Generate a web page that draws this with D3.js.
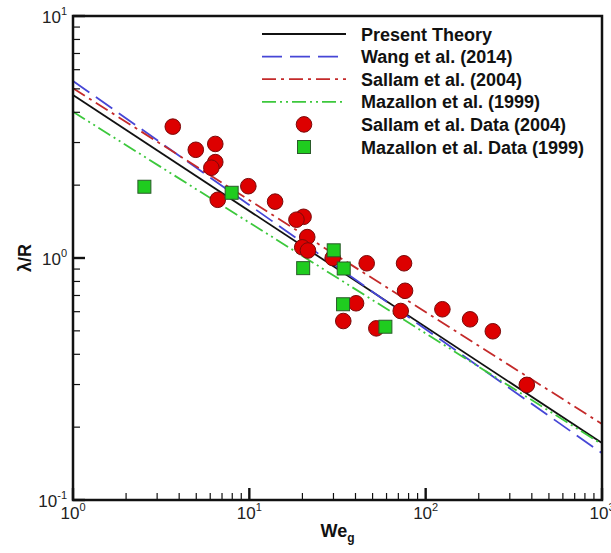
<!DOCTYPE html>
<html>
<head>
<meta charset="utf-8">
<script src="https://cdn.jsdelivr.net/npm/d3@7"></script>
<style>
  body { margin: 0; background: #fff; }
  svg { display: block; font-family: "Liberation Sans", Arial, sans-serif; }
</style>
</head>
<body>
<svg id="chart" width="611" height="553"></svg>
<script>
// fitted curves, read at the ends of the axis
const theoryPts   = [[1, 4.72], [1000, 0.172]];
const wangPts     = [[1, 5.39], [1000, 0.156]];
const sallamPts   = [[1, 5.03], [1000, 0.206]];
const mazallonPts = [[1, 4.02], [1000, 0.170]];

// measured data (We_g, lambda/R)
const sallamWe = [3.68, 4.97, 6.41, 6.41, 6.09, 9.87, 6.62, 14.0, 20.3, 18.5, 21.3, 19.95, 21.5,
                  29.7, 46.3, 75.4, 76.4, 72.2, 40.3, 34.1, 52.5, 124.4, 178.6, 240.3, 374.6];
const sallamLR = [3.49, 2.80, 2.96, 2.49, 2.36, 1.98, 1.74, 1.71, 1.48, 1.44, 1.22, 1.107, 1.074,
                  1.00, 0.951, 0.951, 0.732, 0.604, 0.650, 0.549, 0.512, 0.614, 0.558, 0.498, 0.299];
const mazallonWe = [2.54, 7.94, 30.1, 20.2, 34.3, 34.0, 59.1];
const mazallonLR = [1.97, 1.86, 1.076, 0.908, 0.905, 0.644, 0.520];

const xMajor = [1, 10, 100, 1000];
const yMajor = [0.1, 1, 10];

const margin = {top: 16, right: 9, bottom: 53, left: 73},
    width = 611 - margin.left - margin.right,
    height = 553 - margin.top - margin.bottom;

const svg = d3.select('#chart');
const g = svg.append('g').attr('transform', 'translate(' + margin.left + ',' + margin.top + ')');

const x = d3.scaleLog().domain([1, 1000]).range([0, width]);
const y = d3.scaleLog().domain([0.1, 10]).range([height, 0]);

// minor ticks 2..9 in every decade
function minors(lo, hi) {
  let out = [];
  for (let d = lo; d < hi; d *= 10)
    for (let k = 2; k < 10; k++) out.push(d * k);
  return out;
}

const line = d3.line().x(function(d) { return x(d[0]); }).y(function(d) { return y(d[1]); });

const curves = [
  {name: 'Present Theory', pts: theoryPts, color: '#111', dash: null},
  {name: 'Wang et al. (2014)', pts: wangPts, color: '#4646d6', dash: '20,8'},
  {name: 'Sallam et al. (2004)', pts: sallamPts, color: '#c42a2a', dash: '14,5,3,5'},
  {name: 'Mazallon et al. (1999)', pts: mazallonPts, color: '#3cc83c', dash: '14,4,2,4,2,4'}
];

curves.forEach(function(c) {
  g.append('path')
      .datum(c.pts)
      .attr('d', line)
      .attr('fill', 'none')
      .attr('stroke', c.color)
      .attr('stroke-width', 1.8)
      .attr('stroke-dasharray', c.dash);
});

// markers
const sallamData = sallamWe.map(function(v, i) { return [v, sallamLR[i]]; });
const mazallonData = mazallonWe.map(function(v, i) { return [v, mazallonLR[i]]; });

g.selectAll('circle.sallam')
    .data(sallamData)
    .enter().append('circle')
    .attr('class', 'sallam')
    .attr('cx', function(d) { return x(d[0]); })
    .attr('cy', function(d) { return y(d[1]); })
    .attr('r', 7.8)
    .attr('fill', '#dd0000')
    .attr('stroke', '#7a0a0a')
    .attr('stroke-width', 1);

const sq = 13;
g.selectAll('rect.mazallon')
    .data(mazallonData)
    .enter().append('rect')
    .attr('class', 'mazallon')
    .attr('x', function(d) { return x(d[0]) - sq / 2; })
    .attr('y', function(d) { return y(d[1]) - sq / 2; })
    .attr('width', sq)
    .attr('height', sq)
    .attr('fill', '#1fcc1f')
    .attr('stroke', '#2a5a2a')
    .attr('stroke-width', 1);

// ticks (inward, left and bottom only)
g.selectAll('line.xmin').data(minors(1, 1000)).enter().append('line')
    .attr('x1', x).attr('x2', x).attr('y1', height).attr('y2', height - 7)
    .attr('stroke', '#111').attr('stroke-width', 1.2);
g.selectAll('line.xmaj').data(xMajor).enter().append('line')
    .attr('x1', x).attr('x2', x).attr('y1', height).attr('y2', height - 12)
    .attr('stroke', '#111').attr('stroke-width', 2.4);
g.selectAll('line.ymin').data(minors(0.1, 10)).enter().append('line')
    .attr('y1', y).attr('y2', y).attr('x1', 0).attr('x2', 7)
    .attr('stroke', '#111').attr('stroke-width', 1.2);
g.selectAll('line.ymaj').data(yMajor).enter().append('line')
    .attr('y1', y).attr('y2', y).attr('x1', 0).attr('x2', 12)
    .attr('stroke', '#111').attr('stroke-width', 2.4);

// frame
g.append('rect')
    .attr('width', width).attr('height', height)
    .attr('fill', 'none').attr('stroke', '#111').attr('stroke-width', 2.5);

// tick labels
function power(sel, exp) {
  sel.append('tspan').text('10');
  sel.append('tspan').attr('dy', -8).attr('font-size', 11).text(exp);
}
xMajor.forEach(function(v) {
  const t = g.append('text')
      .attr('x', x(v)).attr('y', height + 19)
      .attr('text-anchor', 'middle')
      .attr('font-size', 17).attr('fill', '#222');
  power(t, Math.round(Math.log10(v)));
});
yMajor.forEach(function(v) {
  const t = g.append('text')
      .attr('x', -6).attr('y', y(v) + 7)
      .attr('text-anchor', 'end')
      .attr('font-size', 17).attr('fill', '#222');
  power(t, Math.round(Math.log10(v)));
});

// axis titles
const xt = svg.append('text')
    .attr('x', margin.left + width / 2).attr('y', 537)
    .attr('text-anchor', 'middle')
    .attr('font-size', 18).attr('font-weight', 'bold').attr('fill', '#111');
xt.append('tspan').text('We');
xt.append('tspan').attr('dy', 5).attr('font-size', 12).text('g');

svg.append('text')
    .attr('transform', 'translate(31,258) rotate(-90)')
    .attr('text-anchor', 'middle')
    .attr('font-size', 18).attr('font-weight', 'bold').attr('fill', '#111')
    .text('λ/R');

// legend
const legend = svg.append('g').attr('transform', 'translate(262,34)');
const rowH = 22.6;
const entries = curves.map(function(c) { return {name: c.name, type: 'line', c: c}; })
    .concat([{name: 'Sallam et al. Data (2004)', type: 'circle'},
             {name: 'Mazallon et al. Data (1999)', type: 'square'}]);

entries.forEach(function(e, i) {
  const row = legend.append('g').attr('transform', 'translate(0,' + i * rowH + ')');
  if (e.type === 'line') {
    row.append('line')
        .attr('x1', 0).attr('x2', 84).attr('y1', 0).attr('y2', 0)
        .attr('stroke', e.c.color).attr('stroke-width', 1.8)
        .attr('stroke-dasharray', e.c.dash);
  } else if (e.type === 'circle') {
    row.append('circle').attr('cx', 42).attr('cy', 0).attr('r', 7.8)
        .attr('fill', '#dd0000').attr('stroke', '#7a0a0a');
  } else {
    row.append('rect').attr('x', 42 - sq / 2).attr('y', -sq / 2)
        .attr('width', sq).attr('height', sq)
        .attr('fill', '#1fcc1f').attr('stroke', '#2a5a2a');
  }
  row.append('text')
      .attr('x', 99).attr('y', 6.5)
      .attr('font-size', 18).attr('font-weight', 'bold').attr('fill', '#111')
      .text(e.name);
});
</script>
</body>
</html>
